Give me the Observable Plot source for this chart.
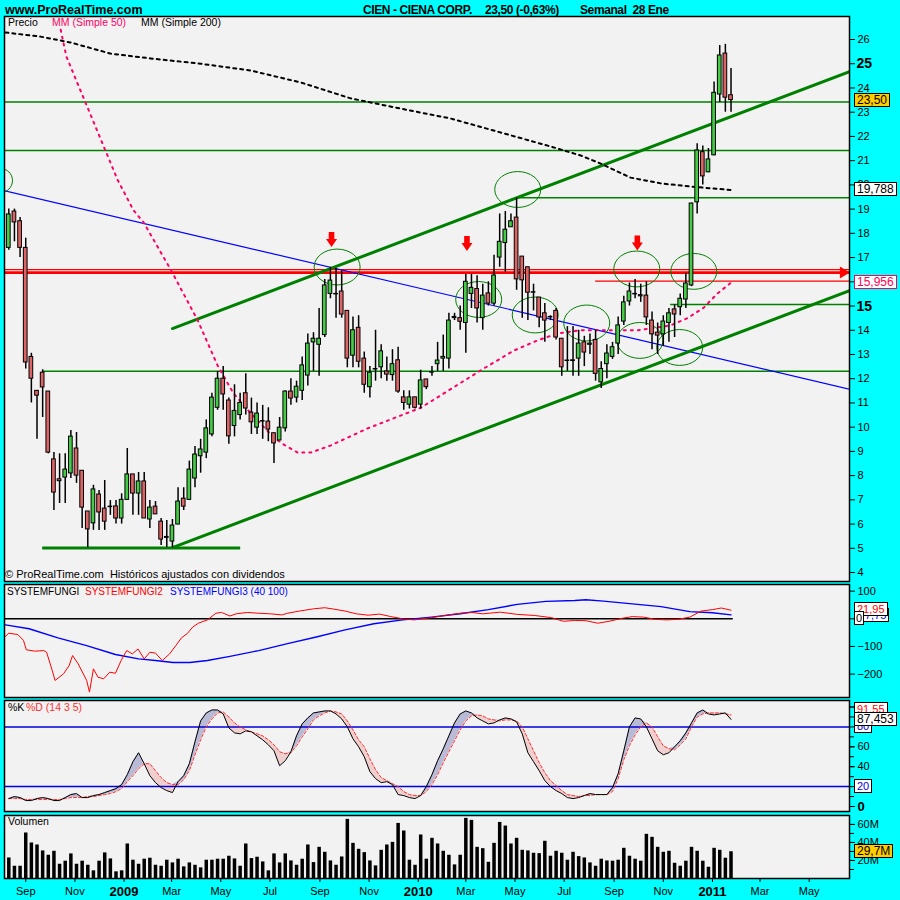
<!DOCTYPE html>
<html><head><meta charset="utf-8">
<script src="https://cdn.jsdelivr.net/npm/d3@7"></script>
<script src="https://cdn.jsdelivr.net/npm/@observablehq/plot@0.6"></script>
<style>
body{margin:0;background:#00ffff;}
#root{position:relative;width:900px;height:900px;overflow:hidden;background:#00ffff;font-family:"Liberation Sans",Arial,sans-serif;}
.t{position:absolute;white-space:nowrap;font-size:11px;line-height:13px;}
.box{position:absolute;white-space:nowrap;font-size:11px;line-height:12px;height:12px;padding:0 2px;border:1px solid #000;background:#fff;}
</style></head><body><div id="root"></div>
<script>
// ---------------- DATA ----------------
const weekStart = Date.UTC(2008, 7, 11); // first weekly bar (Monday)
const openP = [17.4,18.9,18.5,17.4,12.9,11.5,12.25,11.47,8.67,7.85,
7.92,8.09,9.12,8.2,6.52,6.03,7.22,6.64,6.72,6.73,
6.23,7.0,8.05,7.26,7.76,6.19,6.72,6.1,5.47,5.28,
5.98,7.05,7.0,7.88,8.8,8.95,9.7,10.8,12.0,11.1,
10.05,10.5,11.4,10.6,9.98,10.25,10.23,9.75,9.45,9.95,
11.47,11.22,11.5,12.13,13.5,13.4,13.8,15.5,15.5,15.6,
14.8,12.95,14.1,12.83,11.65,12.4,12.47,12.3,12.15,12.76,
11.23,10.93,11.23,10.93,11.97,12.25,12.6,12.83,12.83,14.55,
14.5,14.3,15.5,15.7,14.5,15.52,15.1,17.0,17.6,18.25,
18.65,17.04,16.6,15.57,15.35,14.7,14.55,14.8,13.65,12.75,
12.76,12.83,13.5,13.4,13.6,11.85,12.6,12.9,13.45,14.36,
15.19,15.5,15.45,15.43,14.4,13.9,13.83,14.3,14.86,14.95,
15.27,15.85,19.28,21.35,20.52,21.22,23.73,25.42,23.7];
const highP = [19.0,19.0,18.65,17.8,13.05,11.5,12.37,11.47,8.95,8.9,
8.9,9.86,9.78,8.2,6.52,7.6,7.39,7.8,6.97,6.97,
7.25,9.12,8.05,8.13,8.13,6.97,6.93,6.23,6.15,6.19,
7.5,7.5,8.6,9.2,9.5,10.3,11.4,12.3,12.5,11.2,
11.75,11.4,12.2,11.2,11.0,10.9,10.8,9.75,10.4,11.5,
12.0,11.9,12.9,13.85,13.9,14.9,16.1,16.6,16.55,16.45,
14.8,14.55,14.6,13.1,12.5,14.0,13.4,12.9,13.2,13.3,
11.5,11.5,11.23,12.35,11.97,12.5,13.5,13.8,14.7,14.7,
15.0,16.3,16.3,16.25,15.9,16.0,17.1,18.8,18.9,18.8,
19.45,17.04,16.6,15.9,15.35,15.1,14.6,14.9,13.65,14.15,
14.15,14.0,13.75,13.85,14.0,12.7,13.4,13.5,14.55,15.4,
15.95,16.1,15.9,16.0,14.75,14.3,14.6,14.9,15.05,15.5,
16.35,19.25,21.7,21.6,21.5,24.25,25.75,25.8,24.8];
const lowP = [17.3,17.65,17.0,12.4,11.0,9.5,10.4,8.9,6.56,6.85,
6.85,7.88,7.68,5.82,5.03,5.74,5.74,5.74,6.36,6.0,
6.0,7.0,6.36,6.36,6.23,5.82,6.4,5.12,5.03,5.03,
5.98,6.56,6.97,7.5,8.1,8.7,9.6,10.7,10.7,9.3,
9.6,10.3,10.5,9.7,9.7,9.5,9.4,8.5,9.45,9.8,
10.9,11.0,11.1,11.7,12.3,12.1,13.7,15.3,14.5,14.5,
12.45,12.45,12.45,11.4,11.2,11.9,12.0,11.9,11.9,11.4,
10.7,10.75,10.75,10.75,11.55,12.1,12.3,12.3,12.4,14.4,
14.0,13.05,14.9,14.3,14.0,15.0,15.0,16.6,16.4,18.25,
15.65,14.5,14.4,14.8,14.1,13.5,14.4,13.6,12.1,12.3,
12.1,12.1,12.5,13.0,11.9,11.6,12.0,12.8,13.0,14.2,
15.0,15.3,15.15,14.2,13.2,13.0,13.33,13.5,13.7,14.6,
14.9,15.8,18.8,20.0,20.5,21.2,23.4,23.0,23.0];
const closeP = [18.78,18.45,17.4,12.67,12.0,11.3,11.64,8.95,7.3,7.77,
8.25,9.61,8.0,6.68,5.78,7.43,6.48,6.1,6.7,6.23,
7.0,8.05,7.26,7.76,6.23,6.68,6.4,5.36,5.43,5.94,
6.93,6.72,8.25,8.87,9.08,9.95,11.22,12.0,11.35,9.62,
10.67,11.0,10.77,10.2,10.56,10.23,9.9,9.33,9.98,11.47,
11.18,11.67,12.55,13.45,13.65,13.65,15.85,16.05,15.48,14.65,
12.83,14.0,12.7,11.75,12.25,12.38,13.13,12.17,12.6,11.47,
11.0,11.23,10.8,11.93,11.65,12.26,12.75,12.9,14.4,14.5,
14.35,16.0,15.75,14.9,15.43,15.1,16.26,17.65,18.15,18.5,
16.1,16.06,15.55,15.55,14.53,14.4,14.53,13.7,12.47,12.73,
12.73,13.45,13.08,13.45,12.2,12.4,13.04,13.3,14.2,15.15,
15.6,15.48,15.4,14.53,13.83,13.78,14.36,14.7,14.65,15.3,
15.93,19.23,21.42,20.35,21.05,23.8,25.34,23.6,23.5];
const volumeM = [22.8,13.6,13.6,50.5,39.4,37.2,30.6,25.8,30.2,15.8,
19.2,27.3,15.8,19.2,14.7,8.5,19.2,28.4,21.7,7.4,
8.5,38.3,20.3,15.8,21.4,22.5,14.7,13.6,20.3,17.3,
21.4,12.9,17.3,14.7,11.8,20.3,20.3,21.4,21.4,24.7,
21.7,13.6,38.3,22.1,23.6,18.4,8.5,27.3,17.3,27.3,
19.5,14.7,21.4,37.2,17.7,34.6,29.1,19.5,14.7,23.9,
65.6,39.0,32.4,28.7,19.5,14.0,31.3,37.2,40.1,61.1,
52.7,20.3,14.7,48.3,21.4,44.6,38.3,30.2,25.8,15.1,
25.8,66.7,64.5,34.6,33.1,18.0,39.0,62.2,58.2,38.3,
44.6,31.3,30.6,28.0,27.6,41.3,24.7,30.2,28.0,20.3,
29.1,24.3,22.8,17.3,13.6,21.4,19.5,19.2,20.3,33.5,
24.7,21.4,19.2,49.0,45.7,34.6,29.1,30.2,16.9,13.6,
19.2,34.6,30.2,19.2,12.5,33.5,31.3,22.5,29.7];
const stochK = [8,10,9,6,6,8,9,8,6,6,
9,12,13,9,9,11,12,14,16,18,
22,32,45,54,43,31,24,19,16,14,
25,31,43,65,86,94,97,97,93,79,
74,73,76,75,71,67,62,56,41,46,
55,71,83,89,94,95,96,96,93,88,
80,68,60,50,35,28,24,25,22,12,
11,9,8,11,20,32,46,58,71,84,
93,96,94,89,86,83,84,87,89,88,
85,73,54,45,36,26,20,16,13,9,
8,9,11,13,12,12,12,19,33,56,
80,89,88,80,68,56,52,54,60,66,
74,84,94,97,93,92,93,94,87.5];
const stochD = [8,8,8,7,7,7,7,7,7,7,
8,9,9,9,10,10,11,12,13,15,
18,25,31,38,43,43,36,29,24,22,
22,27,36,52,67,80,88,94,95,90,
84,80,77,75,73,71,67,62,55,53,
54,61,70,78,87,91,94,96,95,93,
86,77,67,60,48,37,29,26,23,20,
15,12,11,11,15,22,32,44,55,66,
77,86,91,92,91,88,87,86,87,87,
86,80,68,56,44,34,26,21,16,12,
11,10,11,11,12,12,12,15,28,47,
61,72,80,84,80,70,61,58,57,62,
68,80,90,93,94,94,94,93,92];
// [week, value]
const fungi2 = [[0.1,-69],[1,-52],[2.6,-57],[3.6,-78],[4.1,-112],[5.6,-117],[7.2,-115],[7.7,-121],[8.7,-187],[9.2,-223],[10.7,-199],[11.7,-169],[12.3,-133],[13.3,-163],[14.8,-223],[15.3,-265],[16,-181],[16.8,-211],[17.8,-217],[18.9,-193],[19.9,-197],[20.9,-151],[21.9,-115],[22.9,-127],[23.9,-109],[25,-145],[26,-121],[27,-124],[28.2,-151],[29.5,-127],[30.6,-97],[31.6,-69],[32.6,-54],[33.6,-30],[34.6,-16],[36.2,-4],[37.7,20],[38.7,23],[40.2,10],[41.3,18],[43.3,23],[45.3,20],[47.4,18],[49.4,14],[50.4,20],[52.5,28],[55,36],[57,40],[58.6,35],[60.6,28],[62.6,18],[64.7,13],[66.7,17],[68.7,8],[70.8,0],[72.8,-4],[75.9,4],[78.9,14],[81,20],[83,23],[85,18],[88.1,24],[91.1,16],[94.2,12],[97.2,4],[99.3,-9],[101.3,-6],[103.3,-7],[105.4,-16],[107.4,-9],[109.5,1],[111.5,8],[113.5,6],[115.6,-2],[117.6,-4],[119.6,-2],[121.7,6],[123.7,28],[125.7,33],[127.3,39],[129,31]];
const fungi3 = [[0.1,-21],[4.6,-36],[9.7,-69],[14.8,-97],[19.9,-129],[24,-145],[27,-151],[30.1,-158],[33.1,-158],[36.2,-151],[40.2,-136],[45.3,-115],[50.4,-90],[55.5,-66],[60.6,-40],[65.7,-18],[70.8,-4],[75.9,6],[81,18],[86,33],[91.1,52],[96.2,63],[101.3,66],[103.3,69],[106.4,64],[111.5,54],[116.6,44],[121.7,26],[125.7,22],[129,14]];
const ma50 = [[10.2,26.4],[11.2,25.3],[20.3,20.2],[23.1,18.95],[24.9,18.45],[29.7,16.5],[34.5,14.4],[38,12.55],[40.8,11.4],[43.9,10.57],[46.2,10.0],[48,9.57],[50,9.24],[52.2,8.95],[54.5,8.95],[58,9.24],[64.6,9.95],[74,10.8],[79.8,11.64],[84.6,12.34],[90.5,13.16],[94.7,13.58],[98.3,13.87],[102.3,14.0],[106.4,14.0],[112.5,14.0],[118.3,14.2],[121.3,14.5],[124.2,14.94],[126.6,15.52],[129,15.96]];
const ma200 = [[0.4,26.29],[6.6,26.12],[11.9,25.88],[19,25.42],[26.1,25.22],[35,25.0],[43.9,24.72],[52.7,24.23],[61.6,23.57],[70.4,23.15],[79.3,22.74],[88.2,22.16],[97.1,21.58],[102.4,21.21],[105.9,20.88],[111.2,20.3],[116.6,20.06],[121.9,19.93],[125.9,19.85],[129,19.79]];
// drawn studies [week, price]
const blueTrend = [[0.06,19.77],[150.05,11.56]];
const channelUpper = [[30.0,14.07],[150.05,24.68]];
const channelLower = [[30.0,5.03],[150.05,15.64]];
const supportBottom = [{price:5.01, from:7.0, to:42.1}];
const greenLevels = [{price:23.42,from:0,to:151},{price:21.42,from:0,to:151},{price:19.47,from:91.2,to:151},{price:15.06,from:118.3,to:151},{price:12.31,from:7.0,to:151}];
const redThin = [{price:16.50,from:0,to:151},{price:16.03,from:105,to:151}];
const redThick = [{price:16.38,from:0,to:151}];
const redArrowHead = [[149,16.38]];
const ellipses = [[59.19,16.61],[91.2,19.81],[84.28,15.27],[94.3,14.63],[103.43,14.30],[112.3,16.53],[122.4,16.43],[112.85,13.58],[119.9,13.29]];
const edgeEllipse = [[-0.47,20.18]];
const downArrows = [[58.2,17.73],[82.2,17.56],[112.4,17.58]];
const priceTicks = [4,5,6,7,8,9,10,11,12,13,14,17,18,19,20,21,22,23,24,26];
const priceTickMarks = [16];
const priceTicksBold = [15,25];
const fungiTicks = [100,0,-100,-200];
const stochTickMarks = [0,10,20,30,40,50,60,70,80,90,100];
const stochLabels = [60,40];
const stochLabelsBold = [100,0];
const stochLevels = [80,20];
const volTickMarks = [10,20,30,40,50,60];
const volLabels = [20,40,60];
const monthTicks = ["2008-09-01","2008-11-01","2009-03-01","2009-05-01","2009-07-01","2009-09-01","2009-11-01","2010-03-01","2010-05-01","2010-07-01","2010-09-01","2010-11-01","2011-03-01","2011-05-01"];
const monthLabels = ["Sep","Nov","Mar","May","Jul","Sep","Nov","Mar","May","Jul","Sep","Nov","Mar","May"];
const yearTicks = ["2009-01-01","2010-01-01","2011-01-01"];
const yearLabels = ["2009","2010","2011"];

// ---------------- HELPERS ----------------
const DAY = 864e5;
const wk = w => new Date(weekStart + (w - 1) * 7 * DAY);
const xDomain = [new Date(Date.UTC(2008,7,5,16)), new Date(Date.UTC(2011,5,20))];
const FONT = '"Liberation Sans", Arial, sans-serif';
const root = document.getElementById("root");
const style = {background:"none", fontFamily:FONT, fontSize:"11px", color:"#000", overflow:"visible"};
function place(el, top){ el.style.position="absolute"; el.style.left="0px"; el.style.top=top+"px"; root.appendChild(el); return el; }
function text(str, left, top, css){ const d=document.createElement("div"); d.className="t"; d.textContent=str; d.style.left=left+"px"; d.style.top=top+"px"; Object.assign(d.style, css||{}); root.appendChild(d); return d; }
function box(str, left, cy, css){ const d=document.createElement("div"); d.className="box"; d.textContent=str; d.style.left=left+"px"; d.style.top=(cy-7)+"px"; Object.assign(d.style, css||{}); root.appendChild(d); return d; }
const K = 0.5523;
const ellipseSym = ratio => ({draw(ctx, size){ const rx=Math.sqrt(size/Math.PI), ry=rx*ratio;
  ctx.moveTo(rx,0); ctx.bezierCurveTo(rx,ry*K,rx*K,ry,0,ry); ctx.bezierCurveTo(-rx*K,ry,-rx,ry*K,-rx,0);
  ctx.bezierCurveTo(-rx,-ry*K,-rx*K,-ry,0,-ry); ctx.bezierCurveTo(rx*K,-ry,rx,-ry*K,rx,0); ctx.closePath(); }});
const downArrowSym = {draw(ctx){ ctx.moveTo(-2.8,-8); ctx.lineTo(2.8,-8); ctx.lineTo(2.8,-1); ctx.lineTo(5.5,-1); ctx.lineTo(0,7); ctx.lineTo(-5.5,-1); ctx.lineTo(-2.8,-1); ctx.closePath(); }};
const rightArrowSym = {draw(ctx){ ctx.moveTo(-4,-6); ctx.lineTo(6,0); ctx.lineTo(-4,6); ctx.closePath(); }};

const candles = openP.map((o,i)=>({date:wk(i+1), open:o, high:highP[i], low:lowP[i], close:closeP[i], up: closeP[i]>=o}));
const pts = a => a.map(([w,v])=>({date:wk(w), v}));

// ---------------- HEADER ----------------
const H = {fontSize:"12px", fontWeight:"bold", lineHeight:"14px"};
text("www.ProRealTime.com", 5, 3, Object.assign({}, H, {fontSize:"12.5px"}));
text("CIEN - CIENA CORP.", 363, 3, Object.assign({}, H, {letterSpacing:"-0.4px"}));
text("23,50 (-0,63%)", 485, 3, Object.assign({}, H, {letterSpacing:"-0.4px"}));
text("Semanal  28 Ene", 580, 3, Object.assign({}, H, {letterSpacing:"-0.4px", whiteSpace:"pre"}));

// ---------------- MAIN PANEL ----------------
const mainTop = 14;
const main = Plot.plot({
  width:900, height:570, marginLeft:4, marginRight:51, marginTop:2, marginBottom:3, style,
  x:{type:"utc", domain:xDomain, axis:null},
  y:{domain:[3.63,26.95], axis:null},
  color:{type:"identity"},
  marks:[
    Plot.frame({fill:"#f2f2f2", stroke:"none"}),
    Plot.ruleY(greenLevels, {y:"price", x1:d=>wk(d.from), x2:d=>wk(d.to), stroke:"#008000", strokeWidth:1.5, clip:true}),
    Plot.ruleY(supportBottom, {y:"price", x1:d=>wk(d.from), x2:d=>wk(d.to), stroke:"#008000", strokeWidth:3, clip:true}),
    Plot.ruleY(redThin, {y:"price", x1:d=>wk(d.from), x2:d=>wk(d.to), stroke:"#ff0000", strokeWidth:1.2, clip:true}),
    Plot.ruleY(redThick, {y:"price", x1:d=>wk(d.from), x2:d=>wk(d.to), stroke:"#ff0000", strokeWidth:2.6, clip:true}),
    Plot.line(pts(blueTrend), {x:"date", y:"v", stroke:"#0000ff", strokeWidth:1.2, clip:true}),
    Plot.line(pts(channelUpper), {x:"date", y:"v", stroke:"#008000", strokeWidth:3, clip:true}),
    Plot.line(pts(channelLower), {x:"date", y:"v", stroke:"#008000", strokeWidth:3, clip:true}),
    Plot.dot(pts(ellipses), {x:"date", y:"v", r:23, symbol:ellipseSym(0.78), fill:"none", stroke:"#008000", strokeWidth:1, clip:true}),
    Plot.dot(pts(edgeEllipse), {x:"date", y:"v", r:12, symbol:ellipseSym(1), fill:"none", stroke:"#008000", strokeWidth:1, clip:true}),
    Plot.line(pts(ma200), {x:"date", y:"v", stroke:"#000", strokeWidth:2, strokeDasharray:"3,4", clip:true}),
    Plot.line(pts(ma50), {x:"date", y:"v", stroke:"#ff0066", strokeWidth:2, strokeDasharray:"2,5", clip:true}),
    Plot.ruleX(candles, {x:"date", y1:"low", y2:"high", stroke:"#000", strokeWidth:1.5}),
    Plot.rect(candles, {x1:d=>new Date(+d.date-2.3*DAY), x2:d=>new Date(+d.date+2.3*DAY), y1:"open", y2:"close", fill:d=>d.up?"#44cc44":"#dd6464", stroke:"#000", strokeWidth:1}),
    Plot.dot(pts(downArrows), {x:"date", y:"v", r:6, symbol:downArrowSym, fill:"#ff0000", stroke:"none"}),
    Plot.dot(pts(redArrowHead), {x:"date", y:"v", r:6, symbol:rightArrowSym, fill:"#ff0000", stroke:"none"}),
    Plot.frame({stroke:"#000", strokeWidth:1.5}),
    Plot.axisY(priceTickMarks, {anchor:"right", tickSize:5, tickFormat:()=>"", label:null}),
    Plot.axisY(priceTicks, {anchor:"right", tickSize:5, tickPadding:3, label:null, fontSize:11}),
    Plot.axisY(priceTicksBold, {anchor:"right", tickSize:5, tickPadding:2, label:null, fontSize:14, fontWeight:"bold"})
  ]
});
place(main, mainTop);
const ym = main.scale("y");
text("Precio", 8, 16, {fontSize:"10.5px"});
text("MM (Simple 50)", 52, 16, {fontSize:"10.5px", color:"#ff0066"});
text("MM (Simple 200)", 141, 16, {fontSize:"10.5px"});
text("© ProRealTime.com  Históricos ajustados con dividendos", 5, 568, {fontSize:"11px", whiteSpace:"pre"});
box("23,50", 854, mainTop + ym.apply(closeP[closeP.length-1]), {background:"#ffcc00", fontSize:"12px"});
box("19,788", 854, mainTop + ym.apply(ma200[ma200.length-1][1]), {fontSize:"12px"});
box("15,956", 854, mainTop + ym.apply(ma50[ma50.length-1][1]), {fontSize:"12px", color:"#ff0055", borderColor:"#ff0055"});

// ---------------- SYSTEMFUNGI PANEL ----------------
const p2Top = 582;
const p2 = Plot.plot({
  width:900, height:118, marginLeft:4, marginRight:51, marginTop:2, marginBottom:3, style,
  x:{type:"utc", domain:xDomain, axis:null},
  y:{domain:[-284.6,124], axis:null},
  marks:[
    Plot.frame({fill:"#f2f2f2", stroke:"none"}),
    Plot.ruleY([0], {x1:xDomain[0], x2:wk(129.4), stroke:"#000", strokeWidth:1.5}),
    Plot.line(pts(fungi3), {x:"date", y:"v", stroke:"#0000ff", strokeWidth:1.4, clip:true}),
    Plot.line(pts(fungi2), {x:"date", y:"v", stroke:"#ff0000", strokeWidth:1, clip:true}),
    Plot.frame({stroke:"#000", strokeWidth:1.5}),
    Plot.axisY(fungiTicks, {anchor:"right", tickSize:5, tickPadding:3, label:null, fontSize:11})
  ]
});
place(p2, p2Top);
const y2 = p2.scale("y");
text("SYSTEMFUNGI", 7, 585, {fontSize:"10px"});
text("SYSTEMFUNGI2", 85, 585, {fontSize:"10px", color:"#ff0000"});
text("SYSTEMFUNGI3 (40 100)", 170, 585, {fontSize:"10px", color:"#0000ff"});
box("7,75", 862, p2Top + y2.apply(12), {color:"#0000ff"});
box("21,95", 854, p2Top + y2.apply(34), {color:"#ff0000"});
box("0", 854, p2Top + y2.apply(0), {padding:"0 1px"});

// ---------------- STOCHASTIC PANEL ----------------
const p3Top = 698;
const stoch = stochK.map((k,i)=>({date:wk(i+1), k, d:stochD[i]}));
const p3 = Plot.plot({
  width:900, height:116, marginLeft:4, marginRight:51, marginTop:2, marginBottom:3, style,
  x:{type:"utc", domain:xDomain, axis:null},
  y:{domain:[-5,106.5], axis:null},
  marks:[
    Plot.frame({fill:"#f2f2f2", stroke:"none"}),
    Plot.areaY(stoch, {x:"date", y1:"d", y2:d=>Math.max(d.k,d.d), fill:"#b9bbd6"}),
    Plot.areaY(stoch, {x:"date", y1:d=>Math.min(d.k,d.d), y2:"d", fill:"#f0cfcf"}),
    Plot.ruleY(stochLevels, {stroke:"#0000dd", strokeWidth:1.5}),
    Plot.line(stoch, {x:"date", y:"d", stroke:"#ff3030", strokeWidth:1, strokeDasharray:"3,2"}),
    Plot.line(stoch, {x:"date", y:"k", stroke:"#000", strokeWidth:1}),
    Plot.frame({stroke:"#000", strokeWidth:1.5}),
    Plot.axisY(stochTickMarks, {anchor:"right", tickSize:4, tickFormat:()=>"", label:null}),
    Plot.axisY(stochLabels, {anchor:"right", tickSize:5, tickPadding:3, label:null, fontSize:11}),
    Plot.axisY(stochLabelsBold, {anchor:"right", tickSize:5, tickPadding:3, label:null, fontSize:13, fontWeight:"bold"})
  ]
});
place(p3, p3Top);
const y3 = p3.scale("y");
text("%K", 8, 701, {fontSize:"10.5px"});
text("%D (14 3 5)", 26, 701, {fontSize:"10.5px", color:"#ff3030"});
box("91,55", 854, p3Top + y3.apply(97), {color:"#ff0000"});
box("80", 854, p3Top + y3.apply(80), {color:"#0000dd"});
box("87,453", 854, p3Top + y3.apply(stochK[stochK.length-1]), {fontSize:"12px"});
box("20", 854, p3Top + y3.apply(20), {color:"#0000dd"});

// ---------------- VOLUME PANEL ----------------
const p4Top = 813;
const vol = volumeM.map((v,i)=>({date:wk(i+1), v}));
const labelMap = new Map(monthTicks.map((d,i)=>[+new Date(d), monthLabels[i]]));
const yearMap = new Map(yearTicks.map((d,i)=>[+new Date(d), yearLabels[i]]));
const p4 = Plot.plot({
  width:900, height:87, marginLeft:4, marginRight:51, marginTop:2, marginBottom:22, style,
  x:{type:"utc", domain:xDomain, axis:null},
  y:{domain:[0,69.9], axis:null},
  marks:[
    Plot.frame({fill:"#f2f2f2", stroke:"none"}),
    Plot.ruleX(vol, {x:"date", y1:0, y2:"v", stroke:"#000", strokeWidth:3.5}),
    Plot.frame({stroke:"#000", strokeWidth:1.5}),
    Plot.axisY(volTickMarks, {anchor:"right", tickSize:4, tickFormat:()=>"", label:null}),
    Plot.axisY(volLabels, {anchor:"right", tickSize:5, tickPadding:3, label:null, fontSize:11, tickFormat:d=>d+"M"}),
    Plot.axisX(monthTicks.map(d=>new Date(d)), {anchor:"bottom", tickSize:4, tickPadding:5, label:null, fontSize:11, tickFormat:d=>labelMap.get(+d)}),
    Plot.axisX(yearTicks.map(d=>new Date(d)), {anchor:"bottom", tickSize:4, tickPadding:4, label:null, fontSize:13, fontWeight:"bold", tickFormat:d=>yearMap.get(+d)})
  ]
});
place(p4, p4Top);
const y4 = p4.scale("y");
text("Volumen", 8, 815, {fontSize:"10.5px"});
box("29,7M", 854, p4Top + y4.apply(volumeM[volumeM.length-1]), {background:"#ffcc00", fontSize:"12px"});
</script></body></html>
